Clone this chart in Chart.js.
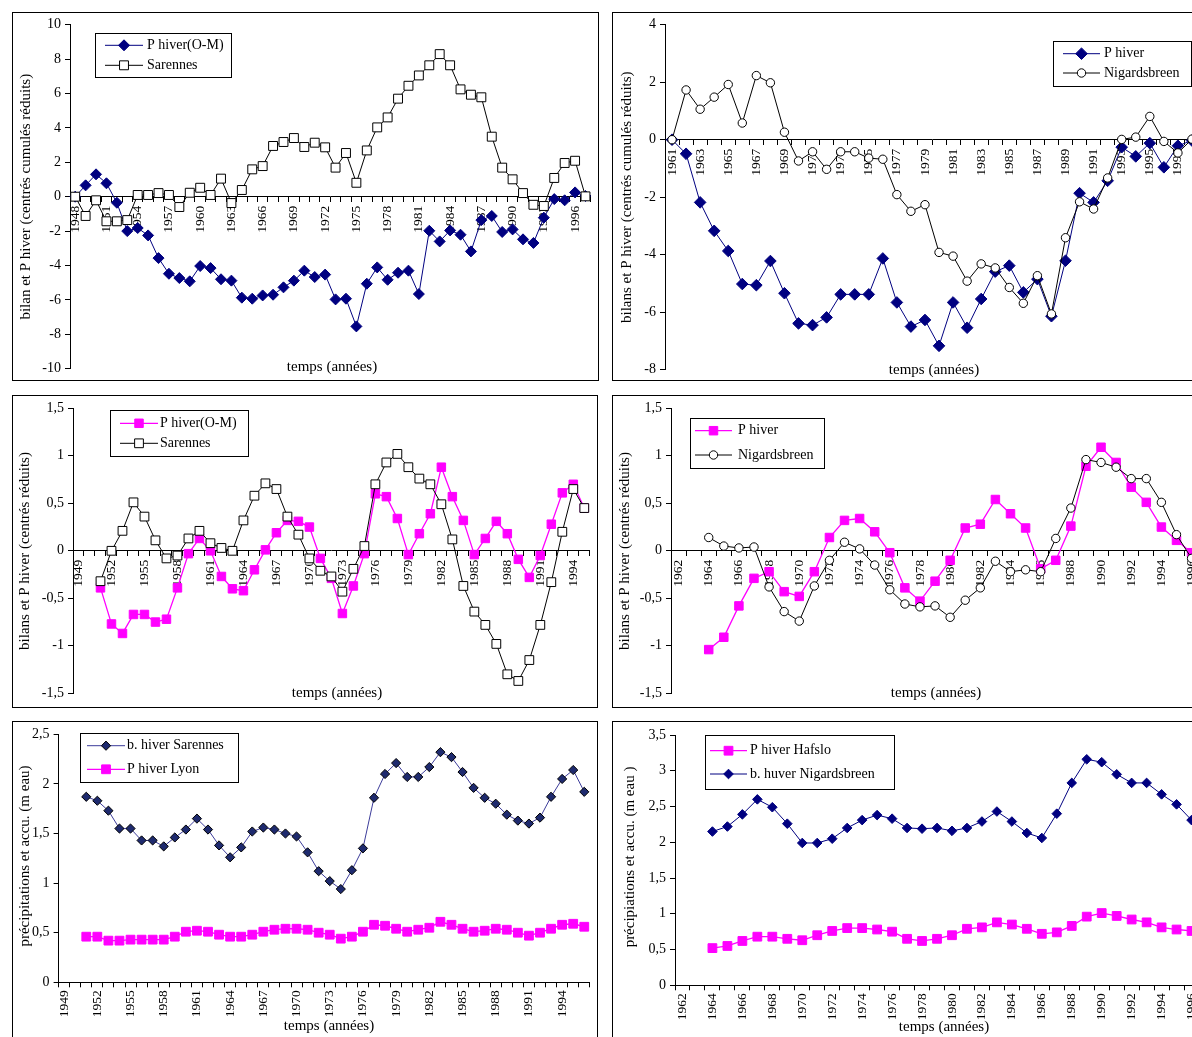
<!DOCTYPE html>
<html lang="fr">
<head>
<meta charset="UTF-8">
<title>Bilans et P hiver - Sarennes / Nigardsbreen</title>
<script src="https://cdn.jsdelivr.net/npm/chart.js"></script>
<style>
  html, body { margin: 0; padding: 0; background: #fff; }
  body { width: 1192px; height: 1037px; overflow: hidden; position: relative; }
  .panel { position: absolute; border: 1px solid #000; overflow: hidden; background: #fff; }
  .panel canvas { display: block; }
</style>
</head>
<body>
<script>
// categories (years)
const years1948_1997 = ['1948','1949','1950','1951','1952','1953','1954','1955','1956','1957','1958','1959','1960','1961','1962','1963','1964','1965','1966','1967','1968','1969','1970','1971','1972','1973','1974','1975','1976','1977','1978','1979','1980','1981','1982','1983','1984','1985','1986','1987','1988','1989','1990','1991','1992','1993','1994','1995','1996','1997'];
const years1961_1998 = ['1961','1962','1963','1964','1965','1966','1967','1968','1969','1970','1971','1972','1973','1974','1975','1976','1977','1978','1979','1980','1981','1982','1983','1984','1985','1986','1987','1988','1989','1990','1991','1992','1993','1994','1995','1996','1997','1998'];
const years1949_1995 = ['1949','1950','1951','1952','1953','1954','1955','1956','1957','1958','1959','1960','1961','1962','1963','1964','1965','1966','1967','1968','1969','1970','1971','1972','1973','1974','1975','1976','1977','1978','1979','1980','1981','1982','1983','1984','1985','1986','1987','1988','1989','1990','1991','1992','1993','1994','1995'];
const years1962_1997 = ['1962','1963','1964','1965','1966','1967','1968','1969','1970','1971','1972','1973','1974','1975','1976','1977','1978','1979','1980','1981','1982','1983','1984','1985','1986','1987','1988','1989','1990','1991','1992','1993','1994','1995','1996','1997'];
const years1949_1996 = ['1949','1950','1951','1952','1953','1954','1955','1956','1957','1958','1959','1960','1961','1962','1963','1964','1965','1966','1967','1968','1969','1970','1971','1972','1973','1974','1975','1976','1977','1978','1979','1980','1981','1982','1983','1984','1985','1986','1987','1988','1989','1990','1991','1992','1993','1994','1995','1996'];

// top left: centred cumulated reduced values, 1948-1997
const pHiverOM_cumul = [0, 0.66, 1.3, 0.78, -0.35, -2.0, -1.82, -2.25, -3.57, -4.48, -4.73, -4.92, -4.03, -4.15, -4.8, -4.88, -5.87, -5.93, -5.74, -5.7, -5.27, -4.88, -4.3, -4.67, -4.53, -5.97, -5.93, -7.54, -5.06, -4.11, -4.83, -4.42, -4.3, -5.66, -1.98, -2.6, -1.96, -2.21, -3.18, -1.36, -1.12, -2.05, -1.9, -2.48, -2.69, -1.22, -0.14, -0.21, 0.25, 0.04];
const sarennes_cumul = [0, -1.12, -0.21, -1.43, -1.43, -1.36, 0.1, 0.1, 0.21, 0.1, -0.6, 0.23, 0.52, 0.1, 1.05, -0.37, 0.39, 1.59, 1.78, 2.95, 3.18, 3.41, 2.89, 3.14, 2.87, 1.69, 2.54, 0.81, 2.69, 4.03, 4.61, 5.7, 6.45, 7.05, 7.64, 8.29, 7.64, 6.24, 5.93, 5.78, 3.49, 1.69, 1.01, 0.21, -0.47, -0.54, 1.09, 1.96, 2.09, 0.02];

// top right: 1961-1998
const pHiverNo_cumul = [0, -0.49, -2.18, -3.17, -3.87, -5.02, -5.06, -4.22, -5.34, -6.39, -6.45, -6.18, -5.38, -5.38, -5.38, -4.13, -5.66, -6.5, -6.27, -7.17, -5.66, -6.54, -5.54, -4.59, -4.38, -5.31, -4.85, -6.14, -4.21, -1.86, -2.18, -1.43, -0.26, -0.58, -0.12, -0.96, -0.21, -0.03];
const nigards_cumul = [0, 1.73, 1.06, 1.48, 1.92, 0.58, 2.23, 1.98, 0.26, -0.74, -0.42, -1.03, -0.42, -0.42, -0.64, -0.68, -1.91, -2.49, -2.26, -3.92, -4.05, -4.92, -4.32, -4.46, -5.14, -5.69, -4.73, -6.06, -3.41, -2.16, -2.41, -1.33, 0.01, 0.09, 0.81, -0.06, -0.46, 0.02];

// middle left: centred reduced values, 1949-1995
const pHiverOM_cr = [null, null, -0.39, -0.77, -0.87, -0.67, -0.67, -0.75, -0.72, -0.39, -0.03, 0.13, 0.0, -0.27, -0.40, -0.42, -0.2, 0.01, 0.19, 0.32, 0.31, 0.25, -0.08, -0.29, -0.66, -0.37, -0.03, 0.60, 0.57, 0.34, -0.04, 0.18, 0.39, 0.88, 0.57, 0.32, -0.04, 0.13, 0.31, 0.18, -0.09, -0.28, -0.05, 0.28, 0.61, 0.70, 0.45];
const sarennes_cr = [null, null, -0.32, 0.0, 0.21, 0.51, 0.36, 0.11, -0.08, -0.05, 0.13, 0.21, 0.08, 0.03, 0.0, 0.32, 0.58, 0.71, 0.65, 0.36, 0.17, -0.08, -0.21, -0.27, -0.43, -0.19, 0.05, 0.70, 0.93, 1.02, 0.88, 0.76, 0.70, 0.49, 0.12, -0.37, -0.64, -0.78, -0.98, -1.30, -1.37, -1.15, -0.78, -0.33, 0.20, 0.65, 0.45];

// middle right: 1962-1997
const pHiverNo_cr = [null, null, -1.04, -0.91, -0.58, -0.29, -0.22, -0.43, -0.48, -0.22, 0.14, 0.32, 0.34, 0.20, -0.02, -0.39, -0.53, -0.32, -0.10, 0.24, 0.28, 0.54, 0.39, 0.24, -0.19, -0.10, 0.26, 0.89, 1.09, 0.93, 0.67, 0.51, 0.25, 0.11, -0.02, null];
const nigards_cr = [null, null, 0.14, 0.05, 0.03, 0.04, -0.38, -0.64, -0.74, -0.37, -0.10, 0.09, 0.02, -0.15, -0.41, -0.56, -0.59, -0.58, -0.70, -0.52, -0.39, -0.11, -0.22, -0.20, -0.22, 0.13, 0.45, 0.96, 0.93, 0.88, 0.76, 0.76, 0.51, 0.17, -0.08, null];

// bottom left: m water eq., 1949-1996
const bHiverSarennes = [null, null, 1.87, 1.83, 1.73, 1.55, 1.55, 1.43, 1.43, 1.37, 1.46, 1.54, 1.65, 1.54, 1.38, 1.26, 1.36, 1.52, 1.56, 1.54, 1.50, 1.47, 1.31, 1.12, 1.02, 0.94, 1.13, 1.35, 1.86, 2.10, 2.21, 2.07, 2.07, 2.17, 2.32, 2.27, 2.12, 1.96, 1.86, 1.80, 1.69, 1.63, 1.60, 1.66, 1.87, 2.05, 2.14, 1.92];
const pHiverLyon = [null, null, 0.46, 0.46, 0.42, 0.42, 0.43, 0.43, 0.43, 0.43, 0.46, 0.51, 0.52, 0.51, 0.48, 0.46, 0.46, 0.48, 0.51, 0.53, 0.54, 0.54, 0.53, 0.50, 0.48, 0.44, 0.46, 0.51, 0.58, 0.57, 0.54, 0.51, 0.53, 0.55, 0.61, 0.58, 0.54, 0.51, 0.52, 0.54, 0.53, 0.50, 0.47, 0.50, 0.54, 0.58, 0.59, 0.56];

// bottom right: 1962-1997
const pHiverHafslo = [null, null, 0.52, 0.55, 0.62, 0.68, 0.68, 0.65, 0.63, 0.70, 0.76, 0.80, 0.80, 0.78, 0.75, 0.65, 0.62, 0.65, 0.70, 0.79, 0.81, 0.88, 0.85, 0.79, 0.72, 0.74, 0.83, 0.96, 1.01, 0.97, 0.92, 0.88, 0.81, 0.78, 0.76, null];
const bHiverNigards = [null, null, 2.15, 2.22, 2.39, 2.60, 2.49, 2.26, 1.99, 1.99, 2.05, 2.20, 2.31, 2.38, 2.33, 2.20, 2.19, 2.20, 2.16, 2.20, 2.29, 2.43, 2.29, 2.13, 2.06, 2.40, 2.83, 3.16, 3.12, 2.95, 2.83, 2.83, 2.67, 2.53, 2.31, null];

const FONT = "'Liberation Serif', 'Times New Roman', serif";
const NAVY = '#000080';
const PINK = '#ff00ff';

function fmt(v) {
  return String(Math.round(v * 100) / 100).replace('.', ',');
}

// one line series, Excel look
function serie(label, data, color, style, radius, fill, edge, order, width) {
  return {
    label: label, data: data,
    borderColor: color, borderWidth: width || 1,
    pointStyle: style, pointRadius: radius,
    pointBackgroundColor: fill, pointBorderColor: edge, pointBorderWidth: 1,
    tension: 0, clip: false, order: order
  };
}

function drawMarker(ctx, ds, x, y) {
  const r = ds.pointRadius;
  ctx.beginPath();
  if (ds.pointStyle === 'rectRot') {
    ctx.moveTo(x - r, y); ctx.lineTo(x, y - r); ctx.lineTo(x + r, y); ctx.lineTo(x, y + r); ctx.closePath();
  } else if (ds.pointStyle === 'rect') {
    const s = r * Math.SQRT1_2;
    ctx.rect(x - s, y - s, 2 * s, 2 * s);
  } else {
    ctx.arc(x, y, r, 0, Math.PI * 2);
  }
  ctx.fillStyle = ds.pointBackgroundColor;
  ctx.fill();
  ctx.lineWidth = ds.pointBorderWidth;
  ctx.strokeStyle = ds.pointBorderColor;
  ctx.stroke();
}

// axis titles + boxed legend sitting inside the plot
function decoPlugin(d) {
  return {
    id: 'deco',
    afterDraw(chart) {
      const ctx = chart.ctx;
      ctx.save();
      ctx.fillStyle = '#000';
      ctx.font = '15px ' + FONT;
      ctx.textAlign = 'center';
      ctx.textBaseline = 'middle';
      ctx.fillText('temps (années)', d.xTitle[0], d.xTitle[1]);
      ctx.translate(d.yTitle[0], d.yTitle[1]);
      ctx.rotate(-Math.PI / 2);
      ctx.fillText(d.yText, 0, 0);
      ctx.restore();

      const g = d.legend;
      ctx.save();
      ctx.fillStyle = '#fff';
      ctx.fillRect(g.box[0], g.box[1], g.box[2], g.box[3]);
      ctx.strokeStyle = '#000';
      ctx.lineWidth = 1;
      ctx.strokeRect(Math.round(g.box[0]) + 0.5, Math.round(g.box[1]) + 0.5, Math.round(g.box[2]), Math.round(g.box[3]));
      ctx.font = '14px ' + FONT;
      ctx.textAlign = 'left';
      ctx.textBaseline = 'middle';
      chart.data.datasets.forEach((ds, i) => {
        const y = g.rows[i];
        ctx.strokeStyle = ds.borderColor;
        ctx.lineWidth = ds.borderWidth;
        ctx.beginPath();
        ctx.moveTo(g.line[0], y);
        ctx.lineTo(g.line[1], y);
        ctx.stroke();
        drawMarker(ctx, ds, (g.line[0] + g.line[1]) / 2, y);
        ctx.fillStyle = '#000';
        ctx.fillText(ds.label, g.text, y);
      });
      ctx.restore();
    }
  };
}

function panel(p) {
  const W = p.box[2], H = p.box[3];
  const [l, t, r, b] = p.area;
  const box = document.createElement('div');
  box.className = 'panel';
  box.style.left = p.box[0] + 'px';
  box.style.top = p.box[1] + 'px';
  box.style.width = W + 'px';
  box.style.height = H + 'px';
  const cv = document.createElement('canvas');
  cv.width = W;
  cv.height = H;
  box.appendChild(cv);
  document.body.appendChild(box);

  new Chart(cv, {
    type: 'line',
    data: { labels: p.labels, datasets: p.series },
    plugins: [decoPlugin(p.deco)],
    options: {
      responsive: false,
      animation: false,
      events: [],
      layout: { padding: { left: 0, top: t, right: W - r, bottom: p.cross ? H - b : 0 } },
      plugins: { legend: { display: false }, tooltip: { enabled: false } },
      scales: {
        x: {
          offset: true,
          position: p.cross ? { y: 0 } : 'bottom',
          grid: { offset: true, drawOnChartArea: false, drawTicks: true, tickLength: 5, color: '#000' },
          border: { display: true, color: '#000', width: 1 },
          ticks: {
            autoSkip: false, minRotation: 90, maxRotation: 90, padding: p.cross ? 4 : 3,
            color: '#000', font: { family: FONT, size: 13.5 },
            callback: (v, i) => (i % p.step === 0 ? p.labels[i] : '')
          },
          afterFit(s) {
            if (!p.cross) s.height = H - b;
            s.paddingLeft = 0;
            s.paddingRight = 0;
          }
        },
        y: {
          min: p.y[0], max: p.y[1],
          grid: { drawOnChartArea: false, drawTicks: true, tickLength: 5, color: '#000' },
          border: { display: true, color: '#000', width: 1 },
          ticks: { stepSize: p.y[2], padding: 4, color: '#000', font: { family: FONT, size: 14 }, callback: v => fmt(v) },
          afterFit(s) {
            s.width = l;
            s.paddingTop = 0;
            s.paddingBottom = 0;
          }
        }
      }
    }
  });
}

// top left
panel({
  box: [12, 12, 585, 367], area: [57, 11.7, 579, 355.7], cross: true,
  labels: years1948_1997, step: 3, y: [-10, 10, 2],
  series: [
    serie('P hiver(O-M)', pHiverOM_cumul, NAVY, 'rectRot', 5.5, NAVY, NAVY, 1),
    serie('Sarennes', sarennes_cumul, '#000', 'rect', 6.3, '#fff', '#000', 0)
  ],
  deco: {
    yText: 'bilan et P hiver (centrés cumulés réduits)', yTitle: [13, 183.7], xTitle: [319, 354],
    legend: { box: [82, 20, 136, 44], line: [92, 130], text: 134, rows: [32.3, 52.3] }
  }
});

// top right
panel({
  box: [612, 12, 600, 367], area: [52, 11.7, 586, 356.7], cross: true,
  labels: years1961_1998, step: 2, y: [-8, 4, 2],
  series: [
    serie('P hiver', pHiverNo_cumul, NAVY, 'rectRot', 5.8, NAVY, NAVY, 1),
    serie('Nigardsbreen', nigards_cumul, '#000', 'circle', 4.2, '#fff', '#000', 0)
  ],
  deco: {
    yText: 'bilans et P hiver (centrés cumulés réduits)', yTitle: [14, 184.2], xTitle: [321, 357],
    legend: { box: [440, 28, 138, 45], line: [450, 487], text: 491, rows: [40.7, 60] }
  }
});

// middle left
panel({
  box: [12, 395, 584, 311], area: [60, 12.3, 584, 297.3], cross: true,
  labels: years1949_1995, step: 3, y: [-1.5, 1.5, 0.5],
  series: [
    serie('P hiver(O-M)', pHiverOM_cr, PINK, 'rect', 6, PINK, PINK, 1, 1.3),
    serie('Sarennes', sarennes_cr, '#000', 'rect', 6.2, '#fff', '#000', 0)
  ],
  deco: {
    yText: 'bilans et P hiver (centrés réduits)', yTitle: [12.3, 155], xTitle: [324, 297],
    legend: { box: [97, 14, 138, 46], line: [107, 145], text: 147, rows: [27.3, 47.3] }
  }
});

// middle right
panel({
  box: [612, 395, 610, 311], area: [58, 12.3, 601.2, 297.3], cross: true,
  labels: years1962_1997, step: 2, y: [-1.5, 1.5, 0.5],
  series: [
    serie('P hiver', pHiverNo_cr, PINK, 'rect', 6, PINK, PINK, 1, 1.3),
    serie('Nigardsbreen', nigards_cr, '#000', 'circle', 4.2, '#fff', '#000', 0)
  ],
  deco: {
    yText: 'bilans et P hiver (centrés réduits)', yTitle: [12.3, 155], xTitle: [323, 297],
    legend: { box: [77, 22, 134, 50], line: [82, 119], text: 125, rows: [34.7, 59] }
  }
});

// bottom left
panel({
  box: [12, 721, 584, 320], area: [45.6, 12.3, 584, 260.3], cross: false,
  labels: years1949_1996, step: 3, y: [0, 2.5, 0.5],
  series: [
    serie('b. hiver Sarennes', bHiverSarennes, '#3c3c9a', 'rectRot', 4.6, '#1e2a6e', '#000', 1),
    serie('P hiver Lyon', pHiverLyon, PINK, 'rect', 6.2, PINK, PINK, 0, 1.3)
  ],
  deco: {
    yText: 'précipitations et accu. (m eau)', yTitle: [12.3, 134], xTitle: [316, 304],
    legend: { box: [67, 11, 158, 49], line: [74, 112], text: 114, rows: [23.7, 47.3] }
  }
});

// bottom right
panel({
  box: [612, 721, 610, 320], area: [62, 13, 601, 263.3], cross: false,
  labels: years1962_1997, step: 2, y: [0, 3.5, 0.5],
  series: [
    serie('P hiver Hafslo', pHiverHafslo, PINK, 'rect', 6.2, PINK, PINK, 0, 1.3),
    serie('b. huver Nigardsbreen', bHiverNigards, NAVY, 'rectRot', 4.8, NAVY, NAVY, 1)
  ],
  deco: {
    yText: 'précipiations et accu. (m eau )', yTitle: [17.3, 135], xTitle: [331, 305],
    legend: { box: [92, 13, 189, 54], line: [97, 134], text: 137, rows: [28.7, 52] }
  }
});
</script>
</body>
</html>
